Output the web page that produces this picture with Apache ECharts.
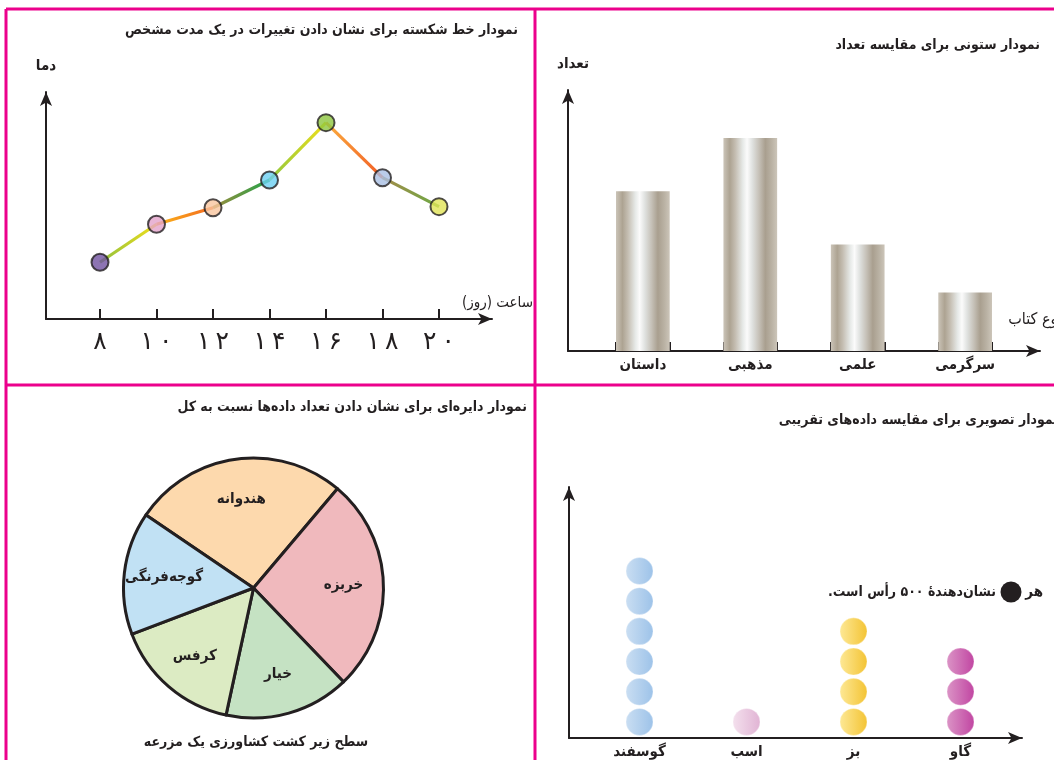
<!DOCTYPE html>
<html dir="rtl">
<head>
<meta charset="utf-8">
<script src="https://cdn.jsdelivr.net/npm/echarts@6/dist/echarts.min.js"></script>
<style>html,body{margin:0;padding:0;background:#fff;} #c{width:1054px;height:760px;}</style>
</head>
<body>
<div id="c"></div>
<script>
// ---------- data ----------
const hours = [8, 10, 12, 14, 16, 18, 20];
const temperature = [10, 16.7, 19.6, 24.5, 34.6, 24.9, 19.8];
const pointColors = ['#7151a0', '#e3a3cb', '#f9c59f', '#6dd0f2', '#8dc63f', '#a9bfe3', '#e1e356'];
const segmentColors = [
  ['#8cbf3f', '#f5e01a'],
  ['#fbb817', '#f26522'],
  ['#a08a3c', '#1fa54a'],
  ['#8cc63f', '#f2e01a'],
  ['#fbb040', '#f15a24'],
  ['#a68a4a', '#6aaa44']
];
const bookTypes = ['داستان', 'مذهبی', 'علمی', 'سرگرمی'];
const bookCounts = [30, 40, 20, 11];
const crops = ['هندوانه', 'خربزه', 'خیار', 'کرفس', 'گوجه‌فرنگی'];
const cropShares = [96, 96, 56, 57, 55];
const cropColors = ['#fdd9ad', '#f0b9bd', '#c5e2c3', '#dcebc3', '#c1e1f4'];
const animals = ['گوسفند', 'اسب', 'بز', 'گاو'];
const heads = [3000, 500, 2000, 1500];
const headsPerSymbol = 500;
const animalColors = [
  ['#bdd6ef', '#84b3e3'],
  ['#f1d9e9', '#d9a0c9'],
  ['#fde37c', '#f0b400'],
  ['#d27ab8', '#b1168a']
];

// ---------- helpers ----------
const FONT = '"DejaVu Sans Condensed", "DejaVu Sans"';
const INK = '#231f20';
const faDigits = '۰۱۲۳۴۵۶۷۸۹';
function toFa(n) {
  return String(n).split('').map(d => faDigits[+d]).join('\u202F');
}
const G = echarts.graphic;
function hGrad(stops) {
  return new G.LinearGradient(0, 0, 1, 0, stops.map((c, i) => ({offset: i / (stops.length - 1), color: c})));
}
const barGrad = new G.LinearGradient(0, 0, 1, 0, [
  {offset: 0, color: '#cbc4b8'},
  {offset: 0.12, color: '#ada392'},
  {offset: 0.22, color: '#c4bdb1'},
  {offset: 0.36, color: '#e6e9e7'},
  {offset: 0.44, color: '#fbfbfb'},
  {offset: 0.54, color: '#dfe1df'},
  {offset: 0.66, color: '#c6c1b8'},
  {offset: 0.78, color: '#a99f8f'},
  {offset: 0.9, color: '#bab2a4'},
  {offset: 1, color: '#ccc5b9'}
]);

function arrowAxis(gridIndex) {
  return {
    type: 'value', gridIndex: gridIndex, min: 0, max: 1,
    axisLine: {show: true, symbol: ['none', 'arrow'], symbolSize: [9, 14], lineStyle: {color: INK, width: 2}},
    axisTick: {show: false}, axisLabel: {show: false}, splitLine: {show: false}
  };
}
function hiddenY(gridIndex, max) {
  return {type: 'value', gridIndex: gridIndex, min: 0, max: max, show: false};
}

// bar slots: bar, gap, bar, gap ...
const barSlots = [];
const barSlotValues = [];
bookTypes.forEach((t, i) => {
  barSlots.push(t); barSlotValues.push(bookCounts[i]);
  if (i < bookTypes.length - 1) { barSlots.push(' '.repeat(i + 1)); barSlotValues.push('-'); }
});

// pictograph symbols
const picto = [];
animals.forEach((a, i) => {
  const n = Math.round(heads[i] / headsPerSymbol);
  for (let k = 0; k < n; k++) {
    picto.push({
      value: [i, (k + 0.5) * headsPerSymbol],
      itemStyle: {color: hGrad(animalColors[i]), borderColor: 'rgba(255,255,255,0.4)', borderWidth: 1}
    });
  }
});

const lineSegments = [];
for (let i = 0; i < hours.length - 1; i++) {
  lineSegments.push({
    type: 'line', xAxisIndex: 1, yAxisIndex: 1, silent: true, symbol: 'none', z: 2,
    data: [[hours[i], temperature[i]], [hours[i + 1], temperature[i + 1]]],
    lineStyle: {width: 3.2, color: hGrad(segmentColors[i])}
  });
}

function txt(x, y, text, size, align, weight) {
  return {type: 'text', x: x, y: y, z: 100, silent: true,
    style: {text: text, font: (weight || 'bold') + ' ' + size + 'px ' + FONT, fill: INK, align: align, verticalAlign: 'middle'}};
}
function border(x1, y1, x2, y2) {
  return {type: 'line', z: 100, silent: true, shape: {x1: x1, y1: y1, x2: x2, y2: y2}, style: {stroke: '#ec008c', lineWidth: 3}};
}

const chart = echarts.init(document.getElementById('c'), null, {renderer: 'canvas'});
chart.setOption({
  animation: false,
  backgroundColor: '#fff',
  textStyle: {fontFamily: FONT},
  grid: [
    {left: 46, top: 92, width: 446, height: 227},   // 0 line axes
    {left: 100, top: 92, width: 339, height: 227},  // 1 line data
    {left: 568, top: 90, width: 472, height: 261},  // 2 bar axes
    {left: 616, top: 90, width: 376, height: 261},  // 3 bar data
    {left: 569, top: 487, width: 453, height: 251}, // 4 picto axes
    {left: 586, top: 487, width: 428, height: 251}  // 5 picto data
  ],
  xAxis: [
    arrowAxis(0),
    {type: 'value', gridIndex: 1, min: 8, max: 20, interval: 2,
      axisLine: {show: false}, splitLine: {show: false},
      axisTick: {show: true, inside: true, length: 10, lineStyle: {color: INK, width: 2}},
      axisLabel: {formatter: v => toFa(v), fontSize: 25, color: INK, margin: 11, fontFamily: '"DejaVu Sans"'}},
    arrowAxis(2),
    {type: 'category', gridIndex: 3, data: barSlots, boundaryGap: true,
      axisLine: {show: false},
      axisTick: {show: true, inside: true, length: 9, interval: 0, lineStyle: {color: INK, width: 2}},
      axisLabel: {interval: 0, fontSize: 15, fontWeight: 'bold', color: INK, margin: 7, fontFamily: FONT}},
    arrowAxis(4),
    {type: 'category', gridIndex: 5, data: animals, boundaryGap: true,
      axisLine: {show: false}, axisTick: {show: false},
      axisLabel: {interval: 0, fontSize: 15, fontWeight: 'bold', color: INK, margin: 8, fontFamily: FONT}}
  ],
  yAxis: [
    Object.assign(arrowAxis(0), {name: 'دما', nameGap: 18, nameTextStyle: {fontSize: 15, fontWeight: 'bold', color: INK, fontFamily: FONT}}),
    hiddenY(1, 40),
    Object.assign(arrowAxis(2), {name: 'تعداد', nameGap: 18, nameTextStyle: {fontSize: 15, fontWeight: 'bold', color: INK, fontFamily: FONT, padding: [0, 0, 0, 10]}}),
    hiddenY(3, 49),
    arrowAxis(4),
    hiddenY(5, 251 / 30.3 * headsPerSymbol)
  ],
  series: lineSegments.concat([
    {type: 'scatter', xAxisIndex: 1, yAxisIndex: 1, z: 3, symbolSize: 17,
      data: hours.map((h, i) => ({value: [h, temperature[i]], itemStyle: {color: pointColors[i]}})),
      itemStyle: {borderColor: INK, borderWidth: 2}},
    {type: 'bar', xAxisIndex: 3, yAxisIndex: 3, data: barSlotValues, barCategoryGap: '0%',
      itemStyle: {color: barGrad}},
    {type: 'scatter', xAxisIndex: 5, yAxisIndex: 5, symbolSize: 27, data: picto},
    {type: 'pie', center: [253.5, 588], radius: [0, 130], startAngle: 145.8, clockwise: true,
      label: {show: false}, labelLine: {show: false}, silent: true,
      itemStyle: {borderColor: INK, borderWidth: 3},
      data: crops.map((c, i) => ({name: c, value: cropShares[i], itemStyle: {color: cropColors[i]}}))},
    {type: 'pie', center: [253.5, 588], radius: [44, 130], startAngle: 145.8, clockwise: true, silent: true,
      avoidLabelOverlap: false, itemStyle: {color: 'rgba(0,0,0,0)', borderWidth: 0},
      label: {show: true, position: 'inside', formatter: '{b}', fontSize: 15, fontWeight: 'bold', color: INK, fontFamily: FONT},
      labelLine: {show: false},
      data: crops.map((c, i) => ({name: c, value: cropShares[i]}))}
  ]),
  graphic: [
    border(6, 9, 1054, 9), border(6, 9, 6, 760), border(535, 9, 535, 760), border(6, 385, 1054, 385),
    txt(518, 30, 'نمودار خط شکسته برای نشان دادن تغییرات در یک مدت مشخص', 14, 'right'),
    txt(1040, 45, 'نمودار ستونی برای مقایسه تعداد', 14, 'right'),
    txt(527, 407, 'نمودار دایره‌ای برای نشان دادن تعداد داده‌ها نسبت به کل', 14, 'right'),
    txt(1058, 420, 'نمودار تصویری برای مقایسه داده‌های تقریبی', 14, 'right'),
    txt(533, 303, 'ساعت (روز)', 15, 'right', 'normal'),
    txt(1062, 320, 'نوع کتاب', 16, 'right', 'normal'),
    txt(256, 742, 'سطح زیر کشت کشاورزی یک مزرعه', 14, 'center'),
    txt(1043, 592, 'هر', 15, 'right'),
    {type: 'circle', z: 100, silent: true, shape: {cx: 1011, cy: 592, r: 10.5}, style: {fill: INK}},
    txt(996, 592, 'نشان‌دهندهٔ ۵۰۰ رأس است.', 14, 'right')
  ]
});
</script>
</body>
</html>
